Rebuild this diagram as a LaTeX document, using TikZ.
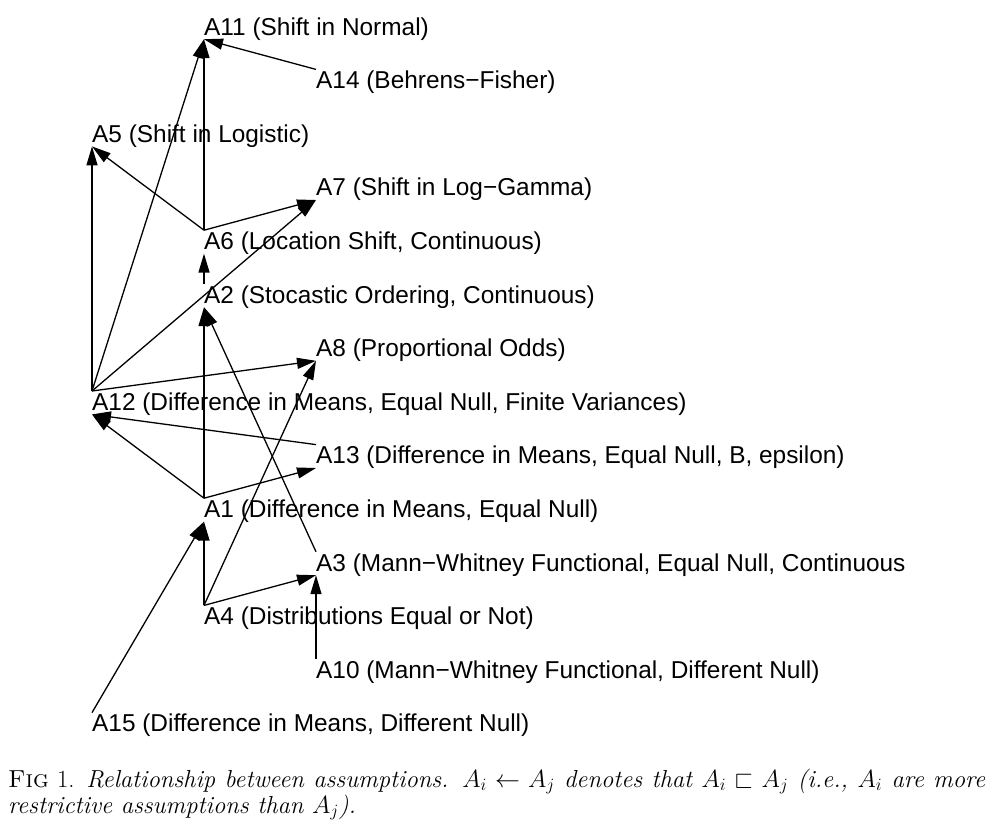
\documentclass[tikz,border=0pt]{standalone}
\usepackage{amssymb}
\usepackage{fontspec}
\newfontfamily\lsans{Liberation Sans}
\usetikzlibrary{arrows.meta}
\begin{document}
\begin{tikzpicture}[x=1pt,y=-1pt,
  lab/.style={font=\lsans\fontsize{24.4}{28}\selectfont, anchor=base west, inner sep=0pt, text height=19pt, text depth=4pt},
  arr/.style={line width=1.3pt, -{Triangle[length=19pt,width=11pt]}}]
\useasboundingbox (0,0) rectangle (1007,831);
\def\rowsep{53.6}
\node[lab] (a11) at (204,{35+0*\rowsep}) {A11 (Shift in Normal)};
\node[lab] (a14) at (316,{35+1*\rowsep}) {A14 (Behrens−Fisher)};
\node[lab] (a5)  at (92,{35+2*\rowsep}) {A5 (Shift in Logistic)};
\node[lab] (a7)  at (316,{35+3*\rowsep}) {A7 (Shift in Log−Gamma)};
\node[lab] (a6)  at (204,{35+4*\rowsep}) {A6 (Location Shift, Continuous)};
\node[lab] (a2)  at (204,{35+5*\rowsep}) {A2 (Stocastic Ordering, Continuous)};
\node[lab] (a8)  at (316,{35+6*\rowsep}) {A8 (Proportional Odds)};
\node[lab] (a12) at (92,{35+7*\rowsep}) {A12 (Difference in Means, Equal Null, Finite Variances)};
\node[lab] (a13) at (316,{35+8*\rowsep}) {A13 (Difference in Means, Equal Null, B, epsilon)};
\node[lab] (a1)  at (204,{35+9*\rowsep}) {A1 (Difference in Means, Equal Null)};
\node[lab] (a3)  at (316,{35+10*\rowsep}) {A3 (Mann−Whitney Functional, Equal Null, Continuous};
\node[lab] (a4)  at (204,{35+11*\rowsep}) {A4 (Distributions Equal or Not)};
\node[lab] (a10) at (316,{35+12*\rowsep}) {A10 (Mann−Whitney Functional, Different Null)};
\node[lab] (a15) at (92,{35+13*\rowsep}) {A15 (Difference in Means, Different Null)};
\draw[arr] (a14.north west) -- (a11.south west);
\draw[arr] (a6.north west) -- (a11.south west);
\draw[arr] (a12.north west) -- (a11.south west);
\draw[arr] (a6.north west) -- (a5.south west);
\draw[arr] (a12.north west) -- (a5.south west);
\draw[arr] (a6.north west) -- (a7.south west);
\draw[arr] (a12.north west) -- (a7.south west);
\draw[arr] (a2.north west) -- (a6.south west);
\draw[arr] (a1.north west) -- (a2.south west);
\draw[arr] (a3.north west) -- (a2.south west);
\draw[arr] (a12.north west) -- (a8.south west);
\draw[arr] (a4.north west) -- (a8.south west);
\draw[arr] (a13.north west) -- (a12.south west);
\draw[arr] (a1.north west) -- (a12.south west);
\draw[arr] (a1.north west) -- (a13.south west);
\draw[arr] (a15.north west) -- (a1.south west);
\draw[arr] (a4.north west) -- (a1.south west);
\draw[arr] (a4.north west) -- (a3.south west);
\draw[arr] (a10.north west) -- (a3.south west);
\node[anchor=north west, inner sep=0pt, text width=977pt, align=justify, font=\fontsize{24.6}{26}\selectfont] (cap) at (8,768.5)
  {\textsc{Fig} 1. \textit{Relationship between assumptions. $A_i \leftarrow A_j$ denotes that $A_i \sqsubset A_j$ (i.e., $A_i$ are more\linebreak restrictive assumptions than $A_j$).}};
\end{tikzpicture}
\end{document}
